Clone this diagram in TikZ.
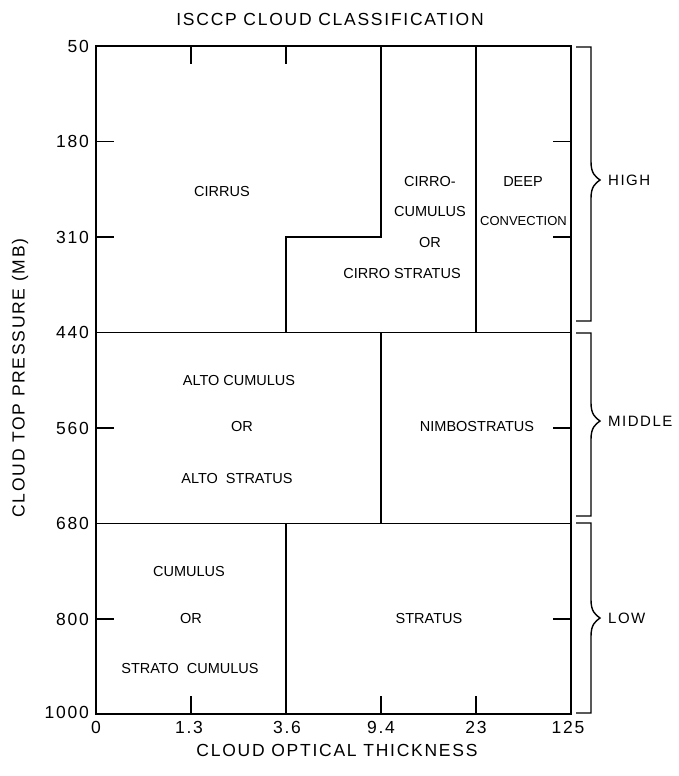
\documentclass[tikz,border=0pt]{standalone}
\usepackage{fontspec}
\setmainfont{Liberation Sans}
\newfontfamily\lettering[LetterSpace=10]{Liberation Sans}
\usepackage{tikz}

\begin{document}
\begin{tikzpicture}[x=1pt, y=-1pt,
  grid/.style={line width=1.8pt},
  tk/.style={line width=1.8pt},
  brc/.style={line width=1.4pt},
  zone/.style={font=\fontsize{14.5}{17}\selectfont, inner sep=0pt},
  axnum/.style={font=\lettering\fontsize{17.5}{20}\selectfont, inner sep=0pt},
  axttl/.style={font=\lettering\fontsize{17.5}{20}\selectfont, inner sep=0pt},
  band/.style={font=\lettering\fontsize{15}{18}\selectfont, inner sep=0pt, anchor=west}
]
  \useasboundingbox (0,0) rectangle (678,776);

  % frame and class boundaries
  \draw[grid] (96,46) rectangle (571,714);
  \draw[grid] (96,332.5) -- (571,332.5);
  \draw[grid] (96,523.5) -- (571,523.5);
  \draw[grid] (381,46) -- (381,237) -- (286,237) -- (286,332.5);
  \draw[grid] (476,46) -- (476,332.5);
  \draw[grid] (381,332.5) -- (381,523.5);
  \draw[grid] (286,523.5) -- (286,714);

  % ticks
  \draw[tk] (191,46) -- (191,64);
  \draw[tk] (286,46) -- (286,64);
  \draw[tk] (191,714) -- (191,696);
  \draw[tk] (381,714) -- (381,696);
  \draw[tk] (476,714) -- (476,696);
  \draw[tk] (96,141.5) -- (114,141.5);
  \draw[tk] (96,237) -- (114,237);
  \draw[tk] (96,428) -- (114,428);
  \draw[tk] (96,619) -- (114,619);
  \draw[tk] (571,141.5) -- (553,141.5);
  \draw[tk] (571,237) -- (553,237);
  \draw[tk] (571,428) -- (553,428);
  \draw[tk] (571,619) -- (553,619);

  % level braces
  \draw[brc] (576,47) -- (591,47) -- (591,162)
    .. controls (591,174) and (596,177) .. (600,180)
    .. controls (596,183) and (591,186) .. (591,198) -- (591,321) -- (576,321);
  \draw[brc] (576,333) -- (591,333) -- (591,403)
    .. controls (591,415) and (596,418) .. (600,421)
    .. controls (596,424) and (591,427) .. (591,439) -- (591,516) -- (576,516);
  \draw[brc] (576,523) -- (591,523) -- (591,600)
    .. controls (591,612) and (596,615) .. (600,618)
    .. controls (596,621) and (591,624) .. (591,636) -- (591,713) -- (576,713);
  \node[band] (high) at (608,180) {HIGH};
  \node[band] (middle) at (608,421) {MIDDLE};
  \node[band] (low) at (608,618) {LOW};

  % titles
  \node[axttl] (title) at (330,19) {ISCCP CLOUD CLASSIFICATION};
  \node[axttl] (xlabel) at (337,750) {CLOUD OPTICAL THICKNESS};
  \node[axttl, rotate=90] (ylabel) at (20,378) {CLOUD TOP PRESSURE (MB)};

  % pressure axis
  \node[axnum, anchor=east] (p50) at (89,46) {50};
  \node[axnum, anchor=east] (p180) at (89,141.5) {180};
  \node[axnum, anchor=east] (p310) at (89,237) {310};
  \node[axnum, anchor=east] (p440) at (89,332.5) {440};
  \node[axnum, anchor=east] (p560) at (89,428) {560};
  \node[axnum, anchor=east] (p680) at (89,523.5) {680};
  \node[axnum, anchor=east] (p800) at (89,619) {800};
  \node[axnum, anchor=east] (p1000) at (89,712) {1000};

  % thickness axis
  \node[axnum] (t0) at (96,727) {0};
  \node[axnum] (t13) at (189,727) {1.3};
  \node[axnum] (t36) at (287,727) {3.6};
  \node[axnum] (t94) at (381,727) {9.4};
  \node[axnum] (t23) at (476,727) {23};
  \node[axnum] (t125) at (568,727) {125};

  % cloud types
  \node[zone] (cirrus) at (222,192) {CIRRUS};
  \node[zone] (cc1) at (430,182) {CIRRO-};
  \node[zone] (cc2) at (430,212) {CUMULUS};
  \node[zone] (cc3) at (430,243) {OR};
  \node[zone] (cc4) at (402,274) {CIRRO STRATUS};
  \node[zone] (deep1) at (523,182) {DEEP};
  \node[zone, font=\fontsize{13}{15}\selectfont] (deep2) at (523.5,221) {CONVECTION};
  \node[zone] (ac1) at (239,381) {ALTO CUMULUS};
  \node[zone] (ac2) at (242,427) {OR};
  \node[zone] (ac3) at (237,479) {ALTO \ STRATUS};
  \node[zone] (ns) at (477,427) {NIMBOSTRATUS};
  \node[zone] (cu1) at (189,572) {CUMULUS};
  \node[zone] (cu2) at (191,619) {OR};
  \node[zone] (cu3) at (190,669) {STRATO \ CUMULUS};
  \node[zone] (st) at (429,619) {STRATUS};
\end{tikzpicture}
\end{document}
